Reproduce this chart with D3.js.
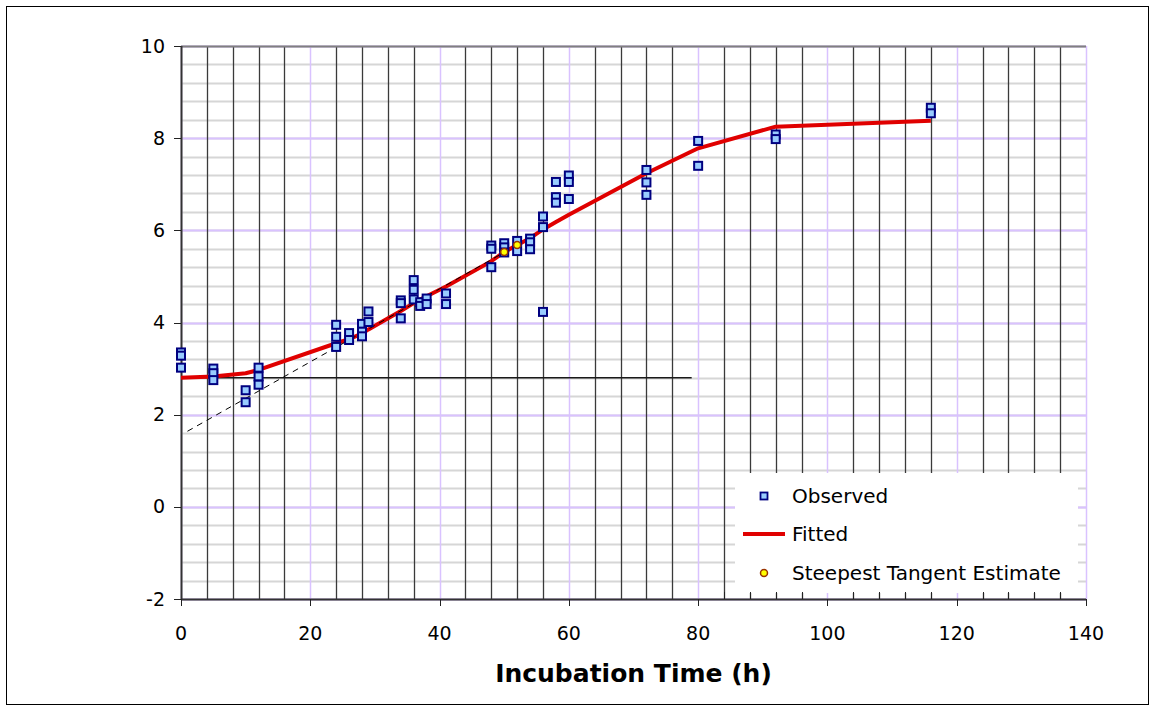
<!DOCTYPE html>
<html>
<head>
<meta charset="utf-8">
<script src="https://cdn.jsdelivr.net/npm/d3@7"></script>
<style>
  html, body { margin: 0; padding: 0; background: #fff; }
  svg { display: block; font-family: 'DejaVu Sans', Verdana, sans-serif; }
</style>
</head>
<body>
<svg id="chart" width="1155" height="711"></svg>
<script>
// Observed growth (log counts) against incubation time
const obsTime = [0, 0, 0, 5, 5, 5, 10, 10, 12, 12, 12, 24, 24, 24, 26, 26, 28, 28, 28, 29, 29,
  34, 34, 34, 36, 36, 36, 37, 37, 38, 38, 41, 41, 48, 48, 48, 50, 50, 50, 52, 52, 54, 54, 54,
  56, 56, 56, 58, 58, 58, 60, 60, 60, 72, 72, 72, 80, 80, 92, 92, 116, 116];
const obsValue = [3.35, 3.28, 3.02, 3.00, 2.90, 2.75, 2.53, 2.27, 3.02, 2.83, 2.65, 3.95, 3.69, 3.47,
  3.77, 3.62, 3.97, 3.80, 3.70, 4.24, 4.01, 4.48, 4.42, 4.09, 4.92, 4.71, 4.50, 4.44, 4.36,
  4.52, 4.40, 4.63, 4.40, 5.67, 5.60, 5.20, 5.72, 5.63, 5.52, 5.77, 5.55, 5.82, 5.74, 5.59,
  6.30, 6.07, 4.23, 7.05, 6.72, 6.60, 7.19, 7.05, 6.68, 7.31, 7.04, 6.77, 7.94, 7.40,
  8.08, 7.98, 8.66, 8.54];

// Fitted model values
const fitTime = [0, 5, 10, 12, 24, 26, 28, 29, 34, 36, 37, 38, 41, 48, 50, 52, 54, 56, 58, 60, 72, 80, 92, 116];
const fitValue = [2.80, 2.83, 2.90, 2.97, 3.55, 3.64, 3.76, 3.85, 4.25, 4.42, 4.50, 4.57, 4.78,
  5.33, 5.53, 5.68, 5.83, 6.02, 6.18, 6.34, 7.24, 7.78, 8.25, 8.38];

// Steepest tangent estimate points and the tangent / lag lines
const tangentTime = [50, 52];
const tangentValue = [5.53, 5.68];
const tangentLineTime = [1, 52];
const tangentLineValue = [1.64, 5.68];
const lagLineTime = [0, 79];
const lagLineValue = [2.8, 2.8];

const xTicks = [0, 20, 40, 60, 80, 100, 120, 140];
const yTicks = [-2, 0, 2, 4, 6, 8, 10];
const legendLabels = ['Observed', 'Fitted', 'Steepest Tangent Estimate'];

const svg = d3.select('#chart');
const plot = { left: 181, right: 1086, top: 46, bottom: 599 };

const x = d3.scaleLinear().domain([0, 140]).range([plot.left, plot.right]);
const y = d3.scaleLinear().domain([-2, 10]).range([plot.bottom, plot.top]);

const LAVENDER = '#d9c2ff';
const px = v => Math.round(v) + 0.5;

// outer chart border
svg.append('rect')
  .attr('x', 6.5).attr('y', 6.5)
  .attr('width', 1142).attr('height', 698)
  .attr('fill', '#fff')
  .attr('stroke', '#000')
  .attr('stroke-width', 1);

const grid = svg.append('g');

// minor horizontal grid every 0.4
grid.selectAll('line.hminor')
  .data(d3.range(-2, 10.001, 0.4))
  .join('line')
  .attr('x1', plot.left).attr('x2', plot.right)
  .attr('y1', d => px(y(d)))
  .attr('y2', d => px(y(d)))
  .attr('stroke', '#d6d6d6')
  .attr('stroke-width', 2);

// major horizontal grid
grid.selectAll('line.hmajor')
  .data(yTicks)
  .join('line')
  .attr('x1', plot.left).attr('x2', plot.right)
  .attr('y1', d => px(y(d)))
  .attr('y2', d => px(y(d)))
  .attr('stroke', LAVENDER)
  .attr('stroke-width', 2);

// vertical grid every 4h, lavender on the major ticks
grid.selectAll('line.v')
  .data(d3.range(0, 141, 4))
  .join('line')
  .attr('x1', d => px(x(d)))
  .attr('x2', d => px(x(d)))
  .attr('y1', plot.top).attr('y2', plot.bottom)
  .attr('stroke', d => d % 20 === 0 ? LAVENDER : '#3a3a3a')
  .attr('stroke-width', d => d % 20 === 0 ? 1.5 : 1.3);

// top edge of plot area
svg.append('line')
  .attr('x1', plot.left).attr('x2', plot.right)
  .attr('y1', px(plot.top)).attr('y2', px(plot.top))
  .attr('stroke', '#808080').attr('stroke-width', 2);

// axes
const xAxis = svg.append('g');
xAxis.append('line')
  .attr('x1', plot.left).attr('x2', plot.right)
  .attr('y1', px(plot.bottom)).attr('y2', px(plot.bottom))
  .attr('stroke', '#333').attr('stroke-width', 2);
xAxis.selectAll('line.tick')
  .data(xTicks)
  .join('line')
  .attr('x1', d => px(x(d))).attr('x2', d => px(x(d)))
  .attr('y1', plot.bottom).attr('y2', plot.bottom + 7)
  .attr('stroke', '#222');
xAxis.selectAll('text')
  .data(xTicks)
  .join('text')
  .attr('x', d => x(d))
  .attr('y', plot.bottom + 41)
  .attr('text-anchor', 'middle')
  .attr('font-size', 19)
  .attr('fill', '#000')
  .text(d => d);

const yAxis = svg.append('g');
yAxis.append('line')
  .attr('x1', px(plot.left)).attr('x2', px(plot.left))
  .attr('y1', plot.top).attr('y2', plot.bottom)
  .attr('stroke', '#333').attr('stroke-width', 2);
yAxis.selectAll('line.tick')
  .data(yTicks)
  .join('line')
  .attr('x1', plot.left - 7).attr('x2', plot.left)
  .attr('y1', d => px(y(d))).attr('y2', d => px(y(d)))
  .attr('stroke', '#222');
yAxis.selectAll('text')
  .data(yTicks)
  .join('text')
  .attr('x', plot.left - 16)
  .attr('y', d => y(d))
  .attr('dy', '0.35em')
  .attr('text-anchor', 'end')
  .attr('font-size', 19)
  .attr('fill', '#000')
  .text(d => d);

svg.append('text')
  .attr('x', x(70))
  .attr('y', 682)
  .attr('text-anchor', 'middle')
  .attr('font-size', 25)
  .attr('font-weight', 'bold')
  .text('Incubation Time (h)');

const line = d3.line().x(d => x(d[0])).y(d => y(d[1]));

// lag level line
svg.append('path')
  .datum(d3.zip(lagLineTime, lagLineValue))
  .attr('d', line)
  .attr('fill', 'none')
  .attr('stroke', '#1a1a1a')
  .attr('stroke-width', 1.6);

// fitted curve
svg.append('path')
  .datum(d3.zip(fitTime, fitValue))
  .attr('d', line)
  .attr('fill', 'none')
  .attr('stroke', '#e00000')
  .attr('stroke-width', 4)
  .attr('stroke-linejoin', 'round');

// steepest tangent line
svg.append('path')
  .datum(d3.zip(tangentLineTime, tangentLineValue))
  .attr('d', line)
  .attr('fill', 'none')
  .attr('stroke', '#000')
  .attr('stroke-width', 1)
  .attr('stroke-dasharray', '6,5');

// observed points
const SQ = 8;
svg.append('g')
  .selectAll('rect')
  .data(d3.zip(obsTime, obsValue))
  .join('rect')
  .attr('x', d => x(d[0]) - SQ / 2)
  .attr('y', d => y(d[1]) - SQ / 2)
  .attr('width', SQ).attr('height', SQ)
  .attr('fill', '#99ccff')
  .attr('stroke', '#000080')
  .attr('stroke-width', 2);

// tangent estimate points
svg.append('g')
  .selectAll('circle')
  .data(d3.zip(tangentTime, tangentValue))
  .join('circle')
  .attr('cx', d => x(d[0]))
  .attr('cy', d => y(d[1]))
  .attr('r', 3.5)
  .attr('fill', '#ffff00')
  .attr('stroke', '#993300')
  .attr('stroke-width', 1.5);

// legend
const legend = svg.append('g');
legend.append('rect')
  .attr('x', 735).attr('y', 473)
  .attr('width', 343).attr('height', 120)
  .attr('fill', '#fff');

const rowY = [496, 534, 573];
legend.selectAll('text')
  .data(legendLabels)
  .join('text')
  .attr('x', 792)
  .attr('y', (d, i) => rowY[i])
  .attr('dy', '0.35em')
  .attr('font-size', 20)
  .attr('fill', '#000')
  .text(d => d);

legend.append('rect')
  .attr('x', 764 - 3.5).attr('y', rowY[0] - 3.5)
  .attr('width', 7).attr('height', 7)
  .attr('fill', '#99ccff')
  .attr('stroke', '#000080')
  .attr('stroke-width', 1.8);
legend.append('line')
  .attr('x1', 743).attr('x2', 785)
  .attr('y1', rowY[1]).attr('y2', rowY[1])
  .attr('stroke', '#e00000')
  .attr('stroke-width', 4);
legend.append('circle')
  .attr('cx', 764).attr('cy', rowY[2])
  .attr('r', 3.5)
  .attr('fill', '#ffff00')
  .attr('stroke', '#993300')
  .attr('stroke-width', 1.5);

// minor x ticks show through the legend area
svg.append('g')
  .selectAll('line')
  .data(d3.range(84, 141, 4).filter(d => d % 20 !== 0))
  .join('line')
  .attr('x1', d => px(x(d))).attr('x2', d => px(x(d)))
  .attr('y1', plot.bottom - 7).attr('y2', plot.bottom)
  .attr('stroke', '#222');
</script>
</body>
</html>
